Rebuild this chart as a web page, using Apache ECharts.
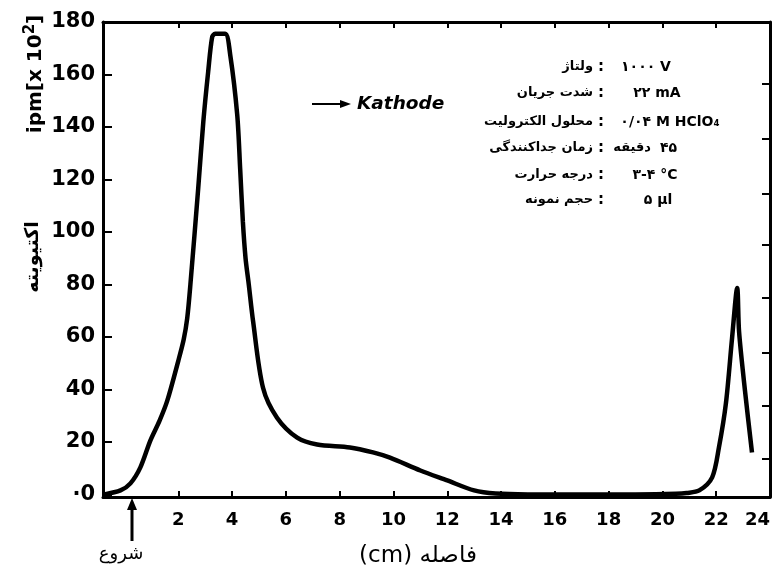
<!DOCTYPE html>
<html>
<head>
<meta charset="utf-8">
<script src="https://cdn.jsdelivr.net/npm/echarts@6/dist/echarts.min.js"></script>
<style>
html,body{margin:0;padding:0;background:#fff;}
#c{width:774px;height:583px;}
</style>
</head>
<body>
<div id="c"></div>
<script>
// distance (cm)
var distance = [-0.75, -0.15, 0.22, 0.59, 0.96, 1.3, 1.59, 2.0, 2.2, 2.33, 2.45, 2.74, 2.93, 3.11, 3.26, 3.37, 3.74, 3.93, 4.19, 4.30, 4.40, 4.50, 4.62, 4.78, 5.15, 5.67, 6.42, 7.16, 8.38, 9.24, 9.87, 11.0, 12.0, 13.0, 13.8, 15, 17, 19, 20.5, 20.9, 21.37, 21.85, 22.1, 22.36, 22.59, 22.78, 22.85, 23.07, 23.33];
// activity (ipm x 10^2)
var activity = [0, 1.5, 4.2, 10.3, 20.5, 28, 35.7, 50.9, 59, 67, 80, 116.6, 142, 161, 174.3, 175.5, 175.5, 167.5, 144.7, 124, 104, 90, 80, 66, 40.6, 29.2, 21.6, 19, 17.9, 16, 14, 9.1, 5.3, 1.5, 0.3, 0, 0, 0, 0.2, 0.5, 1.5, 6.5, 17.8, 34.6, 59.6, 78.6, 62, 39.5, 16];

var xTickValues = [2, 4, 6, 8, 10, 12, 14, 16, 18, 20, 22, 24];
var xTopTickValues = [2, 4, 6, 8, 10, 12, 14, 16, 18, 20, 22];
var yTickValues = [0, 20, 40, 60, 80, 100, 120, 140, 160, 180];
var yRightTickValues = [13.7, 33.8, 54, 74.8, 95, 114.7, 135.6, 156.5];

var infoLabels = ['ولتاژ', 'شدت جریان', 'محلول الکترولیت', 'زمان جداکنندگی', 'درجه حرارت', 'حجم نمونه'];
var infoValues = ['۱۰۰۰ V', '۲۲ mA', '۰/۰۴ M HClO₄', '', '۳-۴ °C', '۵ µl'];

var chart = echarts.init(document.getElementById('c'), null, {renderer: 'canvas'});
var FONT = 'DejaVu Sans';
var axisLineStyle = {color: '#000', width: 3};

var graphics = [];
// Y axis titles
graphics.push({
  type: 'text', x: 34, y: 74, rotation: Math.PI / 2,
  style: {
    text: '{a|ipm[x 10}{s|2}{a|]}',
    rich: {
      a: {font: 'bold 20px "DejaVu Sans"', fill: '#000', verticalAlign: 'bottom'},
      s: {font: 'bold 15px "DejaVu Sans"', fill: '#000', verticalAlign: 'top', padding: [0, 0, 8, 0]}
    },
    align: 'center', verticalAlign: 'middle'
  }
});
graphics.push({
  type: 'text', x: 33, y: 257, rotation: Math.PI / 2,
  style: {text: 'اکتیویته', font: 'bold 19px "DejaVu Sans"', fill: '#000', align: 'center', verticalAlign: 'middle'}
});
// X axis title
graphics.push({
  type: 'text', x: 418, y: 556,
  style: {text: '(cm) فاصله', font: '23px "DejaVu Sans"', fill: '#000', align: 'center', verticalAlign: 'middle'}
});
// start arrow
graphics.push({type: 'line', shape: {x1: 132, y1: 541, x2: 132, y2: 508}, style: {stroke: '#000', lineWidth: 3}});
graphics.push({type: 'polygon', shape: {points: [[127, 510], [137, 510], [132, 498]]}, style: {fill: '#000'}});
graphics.push({
  type: 'text', x: 121, y: 554,
  style: {text: 'شروع', font: '18px "DejaVu Sans"', fill: '#000', align: 'center', verticalAlign: 'middle'}
});
// Kathode arrow
graphics.push({type: 'line', shape: {x1: 312, y1: 104, x2: 342, y2: 104}, style: {stroke: '#000', lineWidth: 2}});
graphics.push({type: 'polygon', shape: {points: [[340, 100], [340, 108], [351, 104]]}, style: {fill: '#000'}});
graphics.push({
  type: 'text', x: 357, y: 104,
  style: {text: 'Kathode', font: 'italic bold 18.5px "DejaVu Sans"', fill: '#000', align: 'left', verticalAlign: 'middle'}
});
// info table
var rowY = [67, 93, 122, 148, 175, 200];
var valCenters = [646, 657, 670, 649, 655, 658];
for (var i = 0; i < infoLabels.length; i++) {
  graphics.push({type: 'text', x: 593, y: rowY[i], style: {text: infoLabels[i], font: 'bold 13px "DejaVu Sans"', fill: '#000', align: 'right', verticalAlign: 'middle'}});
  graphics.push({type: 'text', x: 601, y: rowY[i], style: {text: ':', font: 'bold 15px "DejaVu Sans"', fill: '#000', align: 'center', verticalAlign: 'middle'}});
  if (infoValues[i]) {
    graphics.push({type: 'text', x: valCenters[i], y: rowY[i], style: {text: infoValues[i], font: 'bold 14px "DejaVu Sans"', fill: '#000', align: 'center', verticalAlign: 'middle'}});
  }
}
// row 4 value: "۴۵" minutes (two pieces to keep visual order)
graphics.push({type: 'text', x: 651, y: rowY[3], style: {text: 'دقیقه', font: 'bold 13px "DejaVu Sans"', fill: '#000', align: 'right', verticalAlign: 'middle'}});
graphics.push({type: 'text', x: 660, y: rowY[3], style: {text: '۴۵', font: 'bold 14px "DejaVu Sans"', fill: '#000', align: 'left', verticalAlign: 'middle'}});

var option = {
  animation: false,
  backgroundColor: '#fff',
  grid: {left: 103, right: 4, top: 22, bottom: 86, containLabel: false},
  xAxis: [{
    type: 'value', position: 'bottom', min: -0.8, max: 24,
    axisLine: {show: true, onZero: false, lineStyle: axisLineStyle},
    axisTick: {show: true, inside: true, length: 6, customValues: xTickValues, lineStyle: {color: '#000', width: 2}},
    axisLabel: {customValues: xTickValues, color: '#000', fontFamily: FONT, fontWeight: 'bold', fontSize: 18, margin: 14, alignMaxLabel: 'right'},
    splitLine: {show: false}
  }, {
    type: 'value', position: 'top', min: -0.8, max: 24,
    axisLine: {show: true, onZero: false, lineStyle: axisLineStyle},
    axisTick: {show: true, inside: true, length: 6, customValues: xTopTickValues, lineStyle: {color: '#000', width: 2}},
    axisLabel: {show: false},
    splitLine: {show: false}
  }],
  yAxis: [{
    type: 'value', position: 'left', min: -1, max: 180,
    axisLine: {show: true, onZero: false, lineStyle: axisLineStyle},
    axisTick: {show: true, inside: true, length: 9, customValues: yTickValues, lineStyle: {color: '#000', width: 2}},
    axisLabel: {customValues: yTickValues, color: '#000', fontFamily: FONT, fontWeight: 'bold', fontSize: 21, margin: 8,
      formatter: function (v) { return v === 0 ? '·0' : String(v); }},
    splitLine: {show: false}
  }, {
    type: 'value', position: 'right', min: -1, max: 180,
    axisLine: {show: true, onZero: false, lineStyle: axisLineStyle},
    axisTick: {show: true, inside: true, length: 8, customValues: yRightTickValues, lineStyle: {color: '#000', width: 2}},
    axisLabel: {show: false},
    splitLine: {show: false}
  }],
  series: [{
    type: 'line',
    xAxisIndex: 0, yAxisIndex: 0,
    data: distance.map(function (x, i) { return [x, activity[i]]; }),
    showSymbol: false, symbol: 'none',
    smooth: 0.3,
    lineStyle: {color: '#000', width: 4.5}
  }],
  graphic: graphics
};
chart.setOption(option);
</script>
</body>
</html>
